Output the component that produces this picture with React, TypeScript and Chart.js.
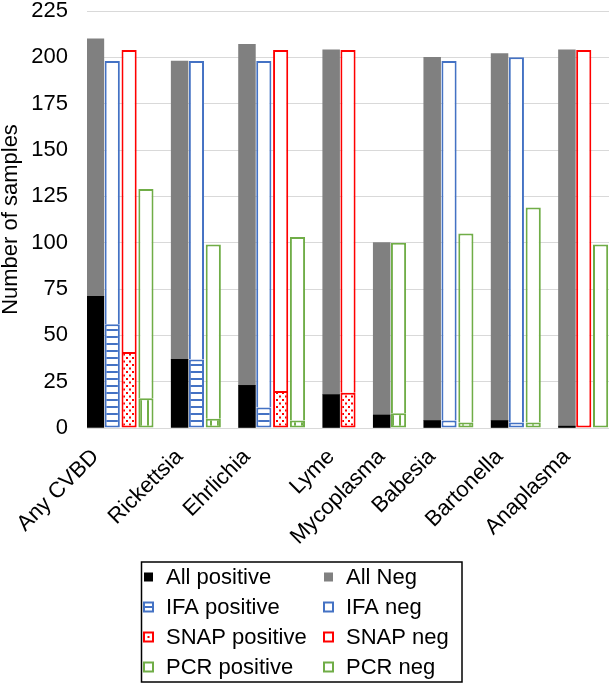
import React, { useEffect, useRef } from 'react';
import { Chart, registerables } from 'chart.js';

Chart.register(...registerables);

// ---------- data ----------
const categories = ['Any CVBD', 'Rickettsia', 'Ehrlichia', 'Lyme', 'Mycoplasma', 'Babesia', 'Bartonella', 'Anaplasma'];
const allPositive = [71, 37, 23, 18, 7, 4, 4, 1];
const allNeg = [139, 161, 184, 186, 93, 196, 198, 203];
const ifaPositive: (number | null)[] = [56, 37, 11, null, null, 4, 3, null];
const ifaNeg: (number | null)[] = [142, 161, 187, null, null, 194, 197, null];
const snapPositive: (number | null)[] = [41, null, 20, 19, null, null, null, 0];
const snapNeg: (number | null)[] = [163, null, 184, 185, null, null, null, 204];
const pcrPositive: (number | null)[] = [16, 5, 4, null, 8, 3, 3, 0];
const pcrNeg: (number | null)[] = [113, 94, 99, null, 92, 102, 116, 99];
const yMin = 0;
const yMax = 225;
const yStep = 25;
const yTitle = 'Number of samples';
const legendLabels = ['All positive', 'All Neg', 'IFA positive', 'IFA neg', 'SNAP positive', 'SNAP neg', 'PCR positive', 'PCR neg'];

const BLUE = '#4472C4';
const RED = '#FF0000';
const GREEN = '#70AD47';
const GRAY = '#808080';
const FONT = '"Liberation Sans", Arial, sans-serif';

type Kind = 'all' | 'ifa' | 'snap' | 'pcr' | 'gap';

function buildSlots() {
  const slots: { cat: number; kind: Kind }[] = [];
  categories.forEach((_, i) => {
    slots.push({ cat: i, kind: 'all' });
    if (ifaPositive[i] !== null) slots.push({ cat: i, kind: 'ifa' });
    if (snapPositive[i] !== null) slots.push({ cat: i, kind: 'snap' });
    if (pcrPositive[i] !== null) slots.push({ cat: i, kind: 'pcr' });
    if (i < categories.length - 1) slots.push({ cat: i, kind: 'gap' });
  });
  return slots;
}

function makePattern(w: number, h: number, draw: (c: CanvasRenderingContext2D) => void) {
  const cv = document.createElement('canvas');
  cv.width = w;
  cv.height = h;
  const c = cv.getContext('2d')!;
  c.fillStyle = '#ffffff';
  c.fillRect(0, 0, w, h);
  draw(c);
  return c.createPattern(cv, 'repeat')!;
}

export default function App() {
  const ref = useRef<HTMLCanvasElement | null>(null);

  useEffect(() => {
    document.body.style.margin = '0';
    const canvas = ref.current;
    if (!canvas) return;

    const hLines = makePattern(8, 7, (c) => {
      c.fillStyle = BLUE;
      c.fillRect(0, 0, 8, 2);
    });
    const dots = makePattern(6, 7, (c) => {
      c.fillStyle = RED;
      c.fillRect(0, 0, 2, 2);
      c.fillRect(3, 3.5, 2, 2);
    });
    const vLines = makePattern(7, 4, (c) => {
      c.fillStyle = GREEN;
      c.fillRect(0, 0, 2, 4);
    });

    const slots = buildSlots();
    const labels = slots.map((s) => (s.kind === 'all' ? categories[s.cat] : ''));
    const pick = (kind: Kind, arr: (number | null)[]) =>
      slots.map((s) => (s.kind === kind ? arr[s.cat] : null));

    const negBorder = (pos: (number | null)[]) => (ctx: any) => {
      const s = slots[ctx.dataIndex];
      const v = s ? pos[s.cat] : null;
      return { top: 2, left: 2, right: 2, bottom: v === 0 ? 2 : 0 };
    };

    const base = { categoryPercentage: 1, borderSkipped: false as const };
    const outlined = { ...base, barPercentage: 0.9 };

    const datasets: any[] = [
      { ...base, barPercentage: 1, label: legendLabels[0], data: pick('all', allPositive), backgroundColor: '#000000', borderWidth: 0, swatch: 'solid' },
      { ...base, barPercentage: 1, label: legendLabels[1], data: pick('all', allNeg), backgroundColor: GRAY, borderWidth: 0, swatch: 'solid' },
      { ...outlined, label: legendLabels[2], data: pick('ifa', ifaPositive), backgroundColor: hLines, borderColor: BLUE, borderWidth: 2, swatch: 'hline' },
      { ...outlined, label: legendLabels[3], data: pick('ifa', ifaNeg), backgroundColor: '#ffffff', borderColor: BLUE, borderWidth: negBorder(ifaPositive), swatch: 'box' },
      { ...outlined, label: legendLabels[4], data: pick('snap', snapPositive), backgroundColor: dots, borderColor: RED, borderWidth: 2, swatch: 'dot' },
      { ...outlined, label: legendLabels[5], data: pick('snap', snapNeg), backgroundColor: '#ffffff', borderColor: RED, borderWidth: negBorder(snapPositive), swatch: 'box' },
      { ...outlined, label: legendLabels[6], data: pick('pcr', pcrPositive), backgroundColor: vLines, borderColor: GREEN, borderWidth: 2, swatch: 'box' },
      { ...outlined, label: legendLabels[7], data: pick('pcr', pcrNeg), backgroundColor: '#ffffff', borderColor: GREEN, borderWidth: negBorder(pcrPositive), swatch: 'box' },
    ];

    const legendPlugin = {
      id: 'boxLegend',
      afterDraw(chart: any) {
        const c: CanvasRenderingContext2D = chart.ctx;
        c.save();
        c.strokeStyle = '#000000';
        c.lineWidth = 1.5;
        c.strokeRect(141.5, 562, 320.5, 120);
        c.font = `22px ${FONT}`;
        c.textBaseline = 'middle';
        c.textAlign = 'left';
        chart.data.datasets.forEach((ds: any, i: number) => {
          const col = i % 2;
          const row = Math.floor(i / 2);
          const cy = 577 + row * 30;
          const sx = col === 0 ? 143 : 323;
          const tx = col === 0 ? 166 : 346;
          if (ds.swatch === 'solid') {
            c.fillStyle = ds.backgroundColor;
            c.fillRect(sx + 1, cy - 4.5, 9, 9);
          } else {
            c.fillStyle = '#ffffff';
            c.fillRect(sx, cy - 5.5, 11, 11);
            c.strokeStyle = ds.borderColor;
            c.fillStyle = ds.borderColor;
            c.lineWidth = 2;
            c.strokeRect(sx + 1, cy - 4.5, 9, 9);
            if (ds.swatch === 'hline') c.fillRect(sx + 2, cy - 1, 7, 2);
            if (ds.swatch === 'dot') c.fillRect(sx + 4.5, cy - 1, 2, 2);
          }
          c.fillStyle = '#000000';
          c.fillText(ds.label, tx, cy + 1);
        });
        c.restore();
      },
    };

    const chart = new Chart(canvas, {
      type: 'bar',
      data: { labels, datasets },
      plugins: [legendPlugin],
      options: {
        animation: false,
        responsive: false,
        maintainAspectRatio: false,
        layout: { padding: { top: 0, right: 3, bottom: 130, left: 0 } },
        plugins: {
          legend: { display: false },
          tooltip: { enabled: false },
        },
        scales: {
          x: {
            stacked: true,
            grid: { display: false, drawTicks: false },
            border: { display: false },
            ticks: {
              autoSkip: false,
              minRotation: 45,
              maxRotation: 45,
              padding: 16,
              color: '#000000',
              font: { family: FONT, size: 22 },
            },
            afterFit: (scale: any) => {
              scale.height = 127;
              scale.paddingLeft = 0;
              scale.paddingRight = 0;
            },
          },
          y: {
            stacked: true,
            min: yMin,
            max: yMax,
            grid: { color: '#D9D9D9', lineWidth: 1, drawTicks: false },
            border: { display: false },
            ticks: {
              stepSize: yStep,
              padding: 19,
              color: '#000000',
              font: { family: FONT, size: 22, lineHeight: 1 },
            },
            title: {
              display: true,
              text: yTitle,
              color: '#000000',
              padding: 0,
              font: { family: FONT, size: 22, lineHeight: 1 },
            },
            afterFit: (scale: any) => {
              scale.width = 87;
              scale.paddingTop = 11;
              scale.paddingBottom = 0;
            },
          },
        },
      },
    });

    return () => chart.destroy();
  }, []);

  return (
    <div style={{ width: 612, height: 685 }}>
      <canvas ref={ref} width={612} height={685} style={{ display: 'block' }} />
    </div>
  );
}
